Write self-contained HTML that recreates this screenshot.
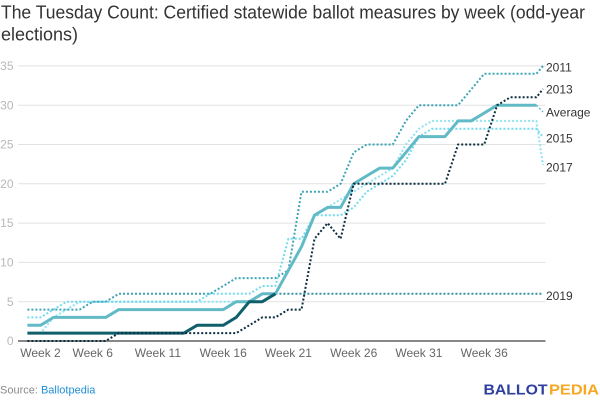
<!DOCTYPE html>
<html>
<head>
<meta charset="utf-8">
<style>
  html,body{margin:0;padding:0;background:#fff;}
  svg{display:block;font-family:"Liberation Sans",Arial,sans-serif;}
</style>
</head>
<body>
<svg width="600" height="400" viewBox="0 0 600 400" xmlns="http://www.w3.org/2000/svg">
  <rect width="600" height="400" fill="#fff"/>
  <!-- Title -->
  <text x="1" y="18.5" font-size="18" fill="#333" textLength="584" lengthAdjust="spacingAndGlyphs">The Tuesday Count: Certified statewide ballot measures by week (odd-year</text>
  <text x="1" y="40.5" font-size="18" fill="#333" textLength="77" lengthAdjust="spacingAndGlyphs">elections)</text>

  <!-- Gridlines -->
  <g stroke="#e2e2e2" stroke-width="1">
    <line x1="18" x2="545.5" y1="65.9" y2="65.9"/>
    <line x1="18" x2="545.5" y1="105.2" y2="105.2"/>
    <line x1="18" x2="545.5" y1="144.5" y2="144.5"/>
    <line x1="18" x2="545.5" y1="183.8" y2="183.8"/>
    <line x1="18" x2="545.5" y1="223.1" y2="223.1"/>
    <line x1="18" x2="545.5" y1="262.4" y2="262.4"/>
    <line x1="18" x2="545.5" y1="301.7" y2="301.7"/>
  </g>
  <line x1="18" x2="545.5" y1="341" y2="341" stroke="#888" stroke-width="2"/>

  <!-- Y labels -->
  <g font-size="12" fill="#b8b8b8" text-anchor="end">
    <text x="13.5" y="70">35</text>
    <text x="13.5" y="109.3">30</text>
    <text x="13.5" y="148.6">25</text>
    <text x="13.5" y="187.9">20</text>
    <text x="13.5" y="227.2">15</text>
    <text x="13.5" y="266.5">10</text>
    <text x="13.5" y="305.8">5</text>
    <text x="13.5" y="345.1">0</text>
  </g>

  <!-- X labels -->
  <g font-size="12" fill="#666" text-anchor="middle">
    <text x="40.5" y="357">Week 2</text>
    <text x="92.7" y="357">Week 6</text>
    <text x="157.9" y="357">Week 11</text>
    <text x="223.2" y="357">Week 16</text>
    <text x="288.4" y="357">Week 21</text>
    <text x="353.7" y="357">Week 26</text>
    <text x="418.9" y="357">Week 31</text>
    <text x="484.2" y="357">Week 36</text>
  </g>

  <!-- Series -->
  <g fill="none" stroke-linejoin="round">
    <!-- Light B (2017) -->
    <polyline stroke="#8fe3f2" stroke-width="2" stroke-dasharray="2 2"
      points="27.4,333.1 40.5,333.1 53.5,317.4 66.6,309.6 79.6,301.7 249.3,301.7 262.3,293.8 275.4,293.8 288.4,270.3 301.5,246.7 314.5,215.2 327.6,207.4 340.6,199.5 353.7,191.7 366.7,183.8 379.8,175.9 392.8,168.1 405.9,144.5 418.9,128.8 432,120.9 536.4,120.9 543,165"/>
    <!-- Light A (2015) -->
    <polyline stroke="#72dbee" stroke-width="2" stroke-dasharray="2 2"
      points="27.4,317.4 40.5,317.4 53.5,309.6 66.6,301.7 197.1,301.7 210.1,293.8 249.3,293.8 262.3,286 275.4,286 288.4,238.8 301.5,238.8 314.5,215.2 340.6,215.2 353.7,207.4 366.7,191.7 379.8,183.8 392.8,175.9 405.9,160.2 418.9,136.6 432,128.8 536.4,128.8 543,137"/>
    <!-- 2011 -->
    <polyline stroke="#3ea5b5" stroke-width="2" stroke-dasharray="2 2"
      points="27.4,309.6 79.6,309.6 92.7,301.7 105.7,301.7 118.8,293.8 210.1,293.8 223.2,286 236.2,278.1 275.4,278.1 288.4,270.3 301.5,191.7 327.6,191.7 340.6,183.8 353.7,152.4 366.7,144.5 392.8,144.5 405.9,120.9 418.9,105.2 458.1,105.2 471.1,89.5 484.2,73.8 536.4,73.8 543,66"/>
    <!-- 2019 projection -->
    <polyline stroke="#3391a0" stroke-width="2" stroke-dasharray="2 2"
      points="275.4,293.8 542,293.8"/>
    <!-- Average -->
    <polyline stroke="#62bac6" stroke-width="3"
      points="27.4,325.3 40.5,325.3 53.5,317.4 105.7,317.4 118.8,309.6 223.2,309.6 236.2,301.7 249.3,301.7 262.3,293.8 275.4,293.8 288.4,270.3 301.5,246.7 314.5,215.2 327.6,207.4 340.6,207.4 353.7,183.8 366.7,175.9 379.8,168.1 392.8,168.1 405.9,152.4 418.9,136.6 445,136.6 458.1,120.9 471.1,120.9 484.2,113.1 497.2,105.2 536.4,105.2"/>
    <polyline stroke="#62bac6" stroke-width="1.5" stroke-dasharray="2 2" points="536.4,105.2 543,112"/>
    <!-- 2019 solid -->
    <polyline stroke="#0e5f6a" stroke-width="3"
      points="27.4,333.1 184,333.1 197.1,325.3 223.2,325.3 236.2,317.4 249.3,301.7 262.3,301.7 275.4,293.8"/>
    <!-- 2013 -->
    <polyline stroke="#0c2e3e" stroke-width="2" stroke-dasharray="2 2"
      points="27.4,341 105.7,341 118.8,333.1 236.2,333.1 249.3,325.3 262.3,317.4 275.4,317.4 288.4,309.6 301.5,309.6 314.5,238.8 327.6,223.1 340.6,238.8 353.7,183.8 445,183.8 458.1,144.5 484.2,144.5 497.2,105.2 510.3,97.3 536.4,97.3 543,89"/>
  </g>

  <!-- Series labels -->
  <g font-size="12" fill="#333">
    <text x="546" y="71.5">2011</text>
    <text x="546" y="93.5">2013</text>
    <text x="546" y="116.5">Average</text>
    <text x="546" y="142.5">2015</text>
    <text x="546" y="171.5">2017</text>
    <text x="546" y="300">2019</text>
  </g>

  <!-- Footer -->
  <text x="0" y="393.5" font-size="11" fill="#8a8a8a">Source: <tspan fill="#1f8fd6">Ballotpedia</tspan></text>
  <text x="483.5" y="394.5" font-size="15" font-weight="bold" fill="#2f3f9f" textLength="64" lengthAdjust="spacingAndGlyphs">BALLOT</text>
  <text x="549" y="394.5" font-size="15" font-weight="bold" fill="#f6a823" textLength="50" lengthAdjust="spacingAndGlyphs">PEDIA</text>
</svg>
</body>
</html>
